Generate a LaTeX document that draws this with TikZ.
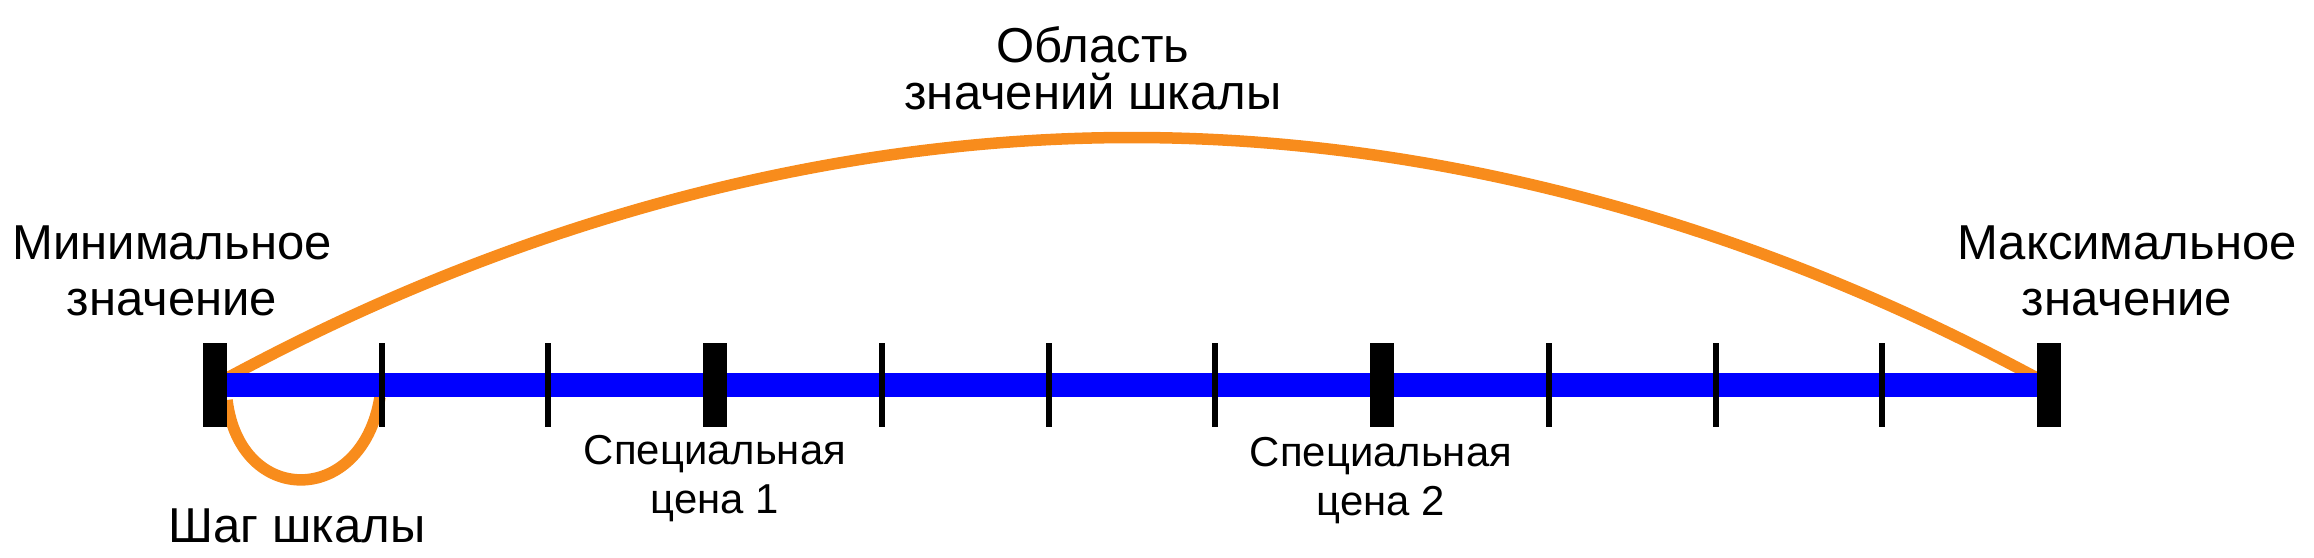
\documentclass[tikz,border=0pt]{standalone}
\usepackage{fontspec}
\setmainfont{Liberation Sans}
\definecolor{arcorange}{RGB}{248,140,28}
\definecolor{scaleblue}{RGB}{0,0,255}
\begin{document}
\begin{tikzpicture}
  [x=0.01cm,y=-0.01cm,
   lbl/.style={align=center,inner sep=0pt,font=\fontsize{13.94}{15.65}\selectfont},
   titlelbl/.style={align=center,inner sep=0pt,font=\fontsize{13.94}{13.1}\selectfont},
   speclbl/.style={align=center,inner sep=0pt,font=\fontsize{11.9}{13.66}\selectfont},
   scalebar/.style={scaleblue,line width=0.24cm},
   thicktick/.style={line width=0.24cm},
   thintick/.style={line width=0.06cm},
   arcline/.style={arcorange,line width=0.115cm}]
  \useasboundingbox (0,0) rectangle (2314,557);

  \coordinate (lo) at (227,378);
  \coordinate (hi) at (2037,378);
  \coordinate (top) at (1132,137.5);
  \coordinate (s0) at (227,400);
  \coordinate (s1) at (380,397);
  \coordinate (b0) at (215,385);
  \coordinate (b1) at (2049,385);

  % arcs
  \draw [arcline] (lo) parabola bend (top) (hi);
  \draw [arcline] (s0) .. controls (240,507) and (362,507) .. (s1);

  % scale
  \draw [scalebar] (b0) -- (b1);
  \foreach \i in {1,2,4,5,6,8,9,10}
    \draw [thintick] ({215+\i*166.73},343) -- ++(0,84);
  \foreach \i in {0,3,7,11}
    \draw [thicktick] ({215+\i*166.73},343) -- ++(0,84);

  % labels
  \node [lbl,anchor=base] (minlbl) at (172,315) {Минимальное\\значение};
  \node [lbl,anchor=base] (maxlbl) at (2127,315) {Максимальное\\значение};
  \node [titlelbl,anchor=base] (rangelbl) at (1093,109) {Область\\значений шкалы};
  \node [lbl,anchor=base] (steplbl) at (297,542) {Шаг шкалы};
  \node [speclbl,anchor=base] (spec1) at (715,513) {Специальная\\цена 1};
  \node [speclbl,anchor=base] (spec2) at (1381,515) {Специальная\\цена 2};
\end{tikzpicture}
\end{document}
